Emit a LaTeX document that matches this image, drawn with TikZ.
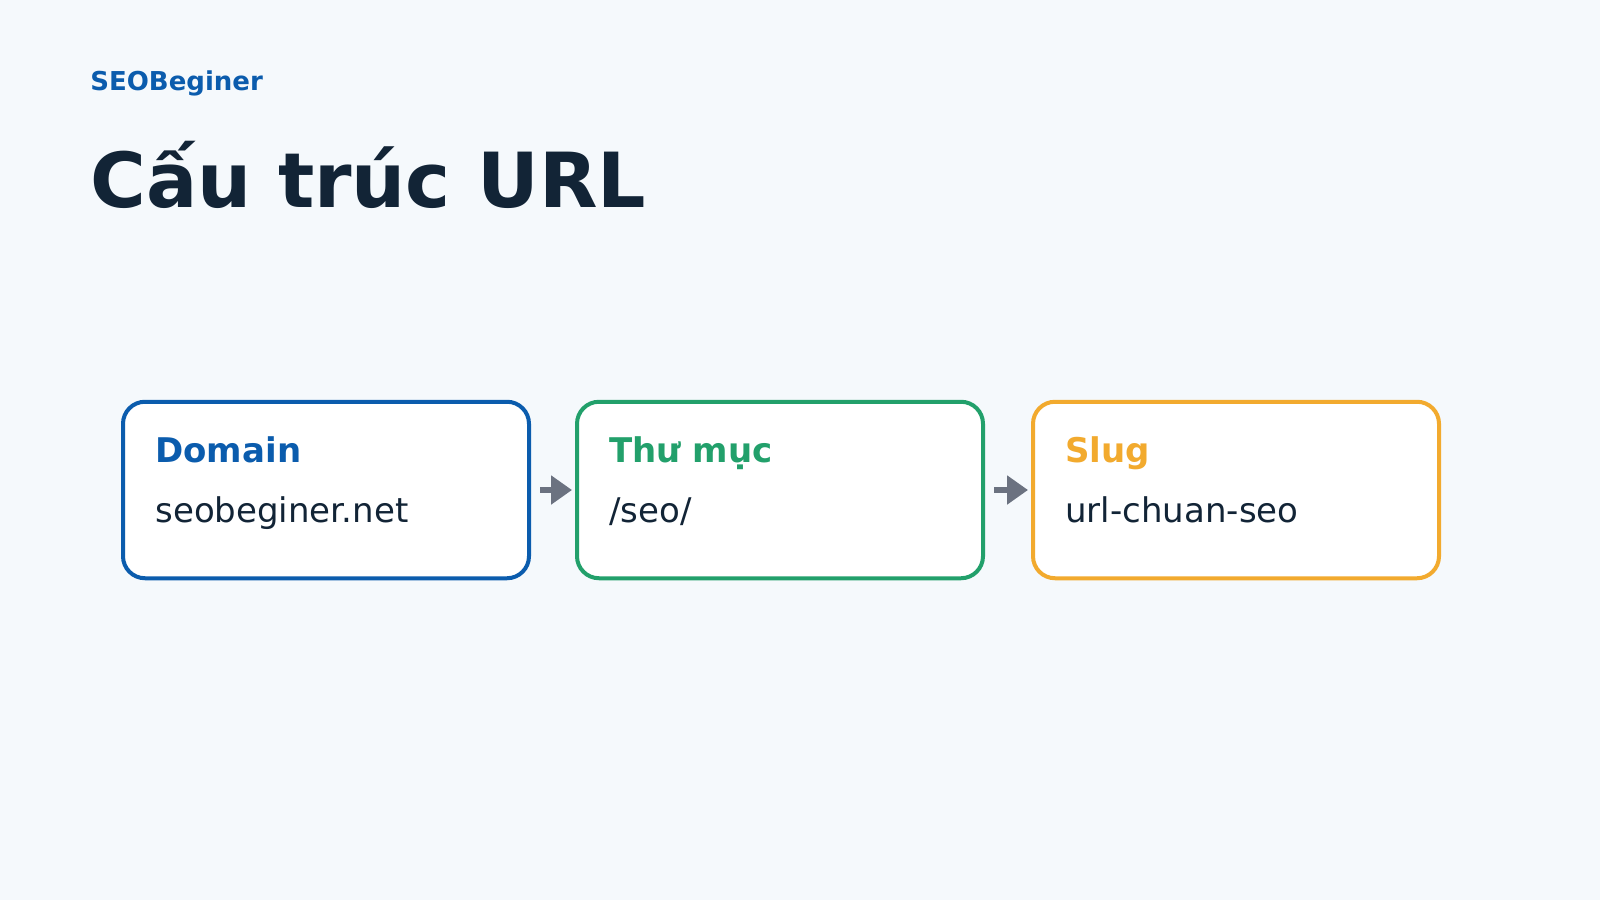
\documentclass[tikz,border=0pt]{standalone}
\usepackage{fontspec}
\setmainfont{DejaVu Sans}
\usetikzlibrary{
  arrows.meta,
  positioning
}
\definecolor{pagebg}{HTML}{F5F9FC}
\definecolor{ink}{HTML}{122436}
\definecolor{brandblue}{HTML}{0B5CAD}
\definecolor{dirgreen}{HTML}{22A06B}
\definecolor{slugorange}{HTML}{F2AA2E}
\definecolor{arrowgray}{HTML}{6B7280}

\begin{document}
\begin{tikzpicture}[
      x=0.5pt,y=-0.5pt,
      part/.style={
         rectangle,
         rounded corners=11pt,
         line width=2pt,
         fill=white,
         minimum width=203pt,
         minimum height=88.25pt,
         inner sep=0pt
      },
      partname/.style={
         anchor=base west,
         inner sep=0pt,
         font=\fontsize{17}{20}\selectfont\bfseries
      },
      partvalue/.style={
         anchor=base west,
         inner sep=0pt,
         text=ink,
         font=\fontsize{17}{20}\selectfont
      },
      flow/.style={
         draw=arrowgray,
         line width=3pt,
         -{Triangle[length=10.5pt,width=14pt]},
         shorten <=4.5pt,
         shorten >=1.5pt
      }
    ]
    % page
    \fill[pagebg] (0,0) rectangle (1600,900);
    % heading
    \node (brand) [anchor=base west, inner sep=0pt, text=brandblue,
       font=\fontsize{13}{16}\selectfont\bfseries] at (90,90) {SEOBeginer};
    \node (title) [anchor=base west, inner sep=0pt, text=ink,
       font=\fontsize{38}{44}\selectfont\bfseries] at (90,207) {Cấu trúc URL};
    % the three parts of the URL
    \node (dom)  [part, draw=brandblue]  at (326,490)  {};
    \node (dir)  [part, draw=dirgreen]   at (780,490)  {};
    \node (slug) [part, draw=slugorange] at (1236,490) {};
    \node (domname)  [partname, text=brandblue]  at ([xshift=17pt,yshift=-31.5pt]dom.north west)  {Domain};
    \node (domval)   [partvalue]                 at ([xshift=17pt,yshift=-61.5pt]dom.north west)  {seobeginer.net};
    \node (dirname)  [partname, text=dirgreen]   at ([xshift=17pt,yshift=-31.5pt]dir.north west)  {Thư mục};
    \node (dirval)   [partvalue]                 at ([xshift=17pt,yshift=-61.5pt]dir.north west)  {/seo/};
    \node (slugname) [partname, text=slugorange] at ([xshift=17pt,yshift=-31.5pt]slug.north west) {Slug};
    \node (slugval)  [partvalue]                 at ([xshift=17pt,yshift=-61.5pt]slug.north west) {url-chuan-seo};
    % arrows
    \draw[flow] (dom) -- (dir);
    \draw[flow] (dir) -- (slug);
\end{tikzpicture}
\end{document}
